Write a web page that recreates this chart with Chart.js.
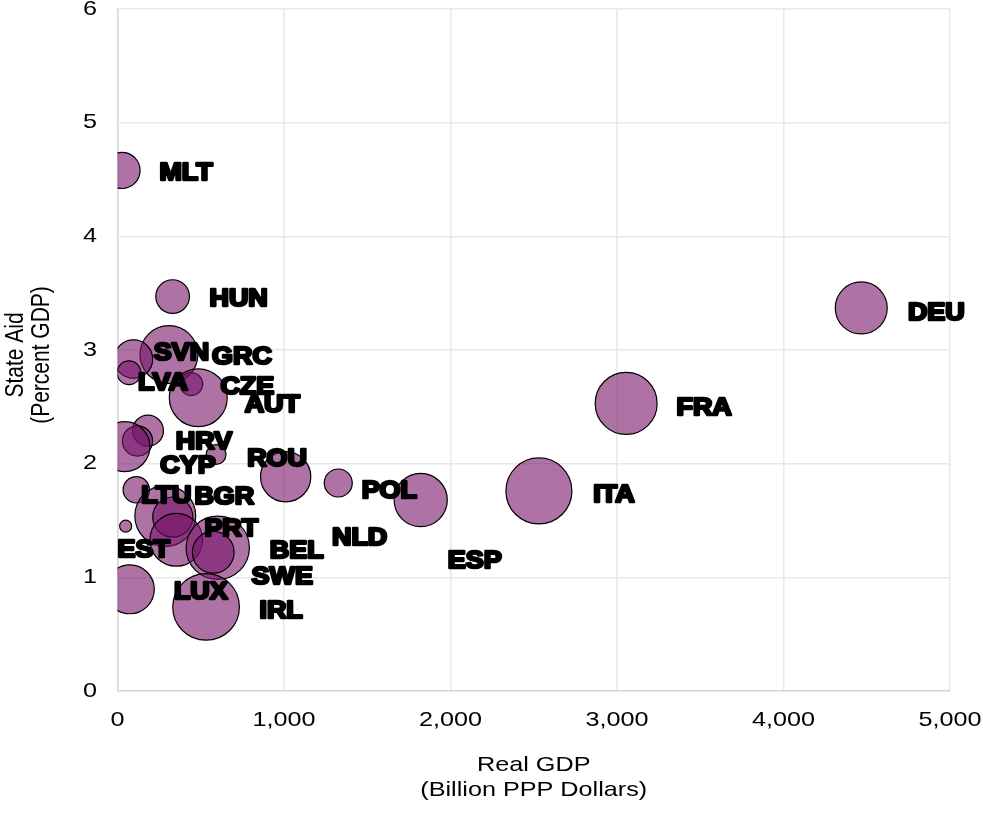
<!DOCTYPE html>
<html>
<head>
<meta charset="utf-8">
<script src="https://cdn.jsdelivr.net/npm/chart.js@4.4.1/dist/chart.umd.min.js"></script>
<style>
  html, body { margin: 0; padding: 0; background: #ffffff; }
  #wrap { width: 983px; height: 813px; position: relative; }
</style>
</head>
<body>
<div id="wrap"><canvas id="chart" width="983" height="813"></canvas></div>
<script>
// Country codes (empty string = bubble without a label)
const countries = ['MLT','HUN','GRC','SVN','LVA','CZE','AUT','HRV','','CYP','ROU','NLD','POL','ESP','ITA','FRA','DEU','LTU','BGR','','EST','PRT','BEL','SWE','LUX','IRL'];
// Real GDP, billion PPP dollars
const realGdp = [27,331,309,96,69,443,485,183,120,45,592,1010,1326,1821,2531,3055,4467,113,287,332,49,353,602,575,74,532];
// State aid, percent of GDP
const stateAid = [4.58,3.47,2.96,2.92,2.80,2.70,2.58,2.29,2.20,2.15,2.08,1.885,1.83,1.68,1.76,2.53,3.37,1.77,1.54,1.53,1.45,1.33,1.26,1.22,0.895,0.74];
// Bubble size (relative area)
const bubbleSize = [30,26,77,34,13,12,77,22,21,57,9,58,18,65,100,88,62,16,85,37,3.3,64,92,40,55,102];

const xTicks = [0,1000,2000,3000,4000,5000];
const yTicks = [0,1,2,3,4,5,6];
const xTitle = ['Real GDP', '(Billion PPP Dollars)'];
const yTitle = ['State Aid', '(Percent GDP)'];

// Label placement relative to each bubble centre (pixels)
const labelOffsets = [[64,1],[66,1],[73,1],[48,-8],[34,9],[56,1],[74,6],[56,10],[0,0],[63,18],[61,3],[74,60],[51,6],[54,59],[75,2],[78,3],[75,3],[30,5],[59,-21],[0,0],[18,22],[55,-12],[79,2],[69,23],[71,1],[75,3]];

const RADIUS_SCALE = 3.3;
const points = realGdp.map((x, i) => ({ x: x, y: stateAid[i], r: Math.sqrt(bubbleSize[i]) * RADIUS_SCALE }));

const FONT = '"Liberation Sans", Arial, sans-serif';
const AXIS_FONT = '21px ' + FONT;
const AXIS_STRETCH = 1.2;

// Draws text with a horizontal stretch around (x, y)
function wideText(ctx, txt, x, y, stretch, align) {
  ctx.save();
  ctx.translate(x, y);
  ctx.scale(stretch, 1);
  ctx.textAlign = align;
  ctx.fillText(txt, 0, 0);
  ctx.restore();
}

const axisTextPlugin = {
  id: 'axisText',
  afterDraw(chart) {
    const ctx = chart.ctx;
    const xs = chart.scales.x, ys = chart.scales.y;
    const area = chart.chartArea;
    ctx.save();
    ctx.font = AXIS_FONT;
    ctx.fillStyle = '#000000';
    ctx.textBaseline = 'middle';
    xTicks.forEach(v => {
      wideText(ctx, v.toLocaleString('en-US'), xs.getPixelForValue(v), 720, AXIS_STRETCH, 'center');
    });
    yTicks.forEach(v => {
      wideText(ctx, String(v), 97, ys.getPixelForValue(v), AXIS_STRETCH, 'right');
    });
    const midX = (area.left + area.right) / 2;
    wideText(ctx, xTitle[0], midX, 765, AXIS_STRETCH, 'center');
    wideText(ctx, xTitle[1], midX, 790, AXIS_STRETCH, 'center');
    // rotated y title: stretch applies across the glyphs' height direction
    const midY = (area.top + area.bottom) / 2 + 5;
    [[yTitle[0], 16], [yTitle[1], 42]].forEach(([txt, x]) => {
      ctx.save();
      ctx.translate(x, midY);
      ctx.rotate(-Math.PI / 2);
      ctx.scale(1, AXIS_STRETCH);
      ctx.textAlign = 'center';
      ctx.fillText(txt, 0, 0);
      ctx.restore();
    });
    ctx.restore();
  }
};

const labelPlugin = {
  id: 'countryLabels',
  afterDatasetsDraw(chart) {
    const ctx = chart.ctx;
    const meta = chart.getDatasetMeta(0);
    ctx.save();
    ctx.font = 'bold 24px ' + FONT;
    ctx.textBaseline = 'alphabetic';
    ctx.fillStyle = '#000000';
    ctx.strokeStyle = '#000000';
    ctx.lineWidth = 2.5;
    ctx.lineJoin = 'round';
    meta.data.forEach((el, i) => {
      const txt = countries[i];
      if (!txt) return;
      const cx = el.x + labelOffsets[i][0];
      const cy = el.y + labelOffsets[i][1] + 8.6;
      ctx.save();
      ctx.translate(cx, cy);
      ctx.scale(1.12, 1);
      ctx.textAlign = 'center';
      ctx.strokeText(txt, 0, 0);
      ctx.fillText(txt, 0, 0);
      ctx.restore();
    });
    ctx.restore();
  }
};

function noOverflow(scale) {
  scale.paddingLeft = 0; scale.paddingRight = 0;
  scale.paddingTop = 0; scale.paddingBottom = 0;
}

new Chart(document.getElementById('chart'), {
  type: 'bubble',
  data: {
    datasets: [{
      data: points,
      backgroundColor: 'rgba(120, 20, 105, 0.6)',
      borderColor: '#000000',
      borderWidth: 1.2,
      clip: 0
    }]
  },
  options: {
    responsive: false,
    animation: false,
    events: [],
    layout: { autoPadding: false, padding: { top: 9, right: 33, left: 0, bottom: 0 } },
    plugins: { legend: { display: false }, tooltip: { enabled: false } },
    scales: {
      x: {
        type: 'linear',
        min: 0, max: 5000,
        afterBuildTicks(scale) { scale.ticks = xTicks.map(v => ({ value: v })); },
        afterFit(scale) { scale.height = 122; noOverflow(scale); },
        grid: { color: '#e8e8e8', lineWidth: 1.5, drawTicks: false },
        border: { color: '#d6d6d6', width: 1.5 },
        ticks: { display: false },
        title: { display: false }
      },
      y: {
        type: 'linear',
        min: 0, max: 6,
        afterBuildTicks(scale) { scale.ticks = yTicks.map(v => ({ value: v })); },
        afterFit(scale) { scale.width = 117.5; noOverflow(scale); },
        grid: { color: '#e8e8e8', lineWidth: 1.5, drawTicks: false },
        border: { color: '#d6d6d6', width: 1.5 },
        ticks: { display: false },
        title: { display: false }
      }
    }
  },
  plugins: [labelPlugin, axisTextPlugin]
});
</script>
</body>
</html>
